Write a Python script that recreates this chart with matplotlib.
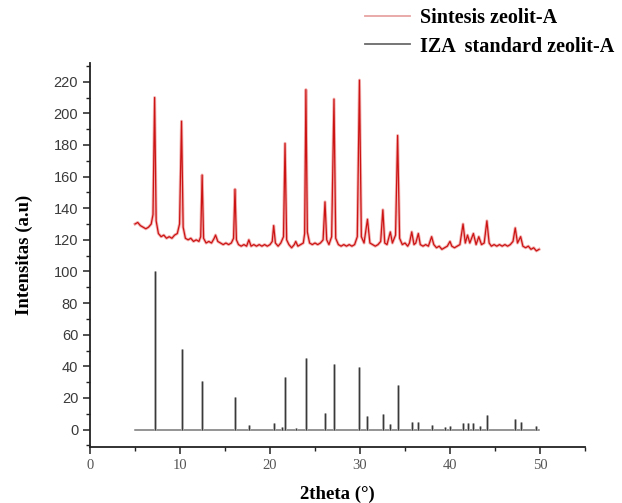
import numpy as np
import matplotlib
matplotlib.use("Agg")
from matplotlib import pyplot as plt
from matplotlib.lines import Line2D
from matplotlib.ticker import MultipleLocator

red_x = [5.0, 5.3, 5.6, 5.9, 6.2, 6.5, 6.8, 7.0, 7.18, 7.35, 7.6, 7.9, 8.2, 8.5, 8.8, 9.1, 9.4, 9.7,
         9.95, 10.17, 10.35, 10.6, 10.9, 11.2, 11.5, 11.8, 12.1, 12.3, 12.46, 12.62, 12.9, 13.2, 13.5,
         13.8, 13.95, 14.2, 14.5, 14.8, 15.1, 15.4, 15.7, 15.95, 16.11, 16.27, 16.5, 16.8, 17.1, 17.4,
         17.65, 17.9, 18.2, 18.5, 18.8, 19.1, 19.4, 19.7, 20.0, 20.25, 20.41, 20.6, 20.9, 21.2, 21.5,
         21.67, 21.85, 22.1, 22.4, 22.7, 22.86, 23.1, 23.4, 23.7, 23.85, 23.99, 24.15, 24.4, 24.7,
         25.0, 25.3, 25.6, 25.9, 26.11, 26.3, 26.55, 26.85, 27.11, 27.3, 27.6, 27.9, 28.2, 28.5, 28.8,
         29.1, 29.4, 29.7, 29.94, 30.15, 30.45, 30.83, 31.1, 31.4, 31.7, 32.0, 32.3, 32.54, 32.75,
         33.0, 33.37, 33.6, 33.95, 34.18, 34.4, 34.7, 35.0, 35.3, 35.5, 35.75, 36.0, 36.2, 36.48,
         36.7, 37.0, 37.3, 37.6, 37.96, 38.2, 38.5, 38.8, 39.1, 39.4, 39.7, 40.0, 40.2, 40.5, 40.8,
         41.1, 41.45, 41.7, 41.95, 42.2, 42.6, 42.9, 43.2, 43.5, 43.8, 44.1, 44.35, 44.6, 44.9, 45.2,
         45.5, 45.8, 46.1, 46.4, 46.7, 47.0, 47.25, 47.5, 47.85, 48.1, 48.4, 48.7, 49.0, 49.3, 49.6,
         49.9]
red_y = [130, 131, 129, 128, 127, 128, 130, 136, 210, 132, 124, 122, 123, 121, 122, 121, 123, 124,
         130, 195, 128, 121, 120, 121, 119, 120, 119, 122, 161, 121, 118, 119, 118,
         121, 123, 119, 118, 117, 118, 117, 118, 121, 152, 120, 117, 116, 117, 116,
         120, 116, 117, 116, 117, 116, 117, 116, 117, 119, 129, 118, 116, 118, 122,
         181, 120, 117, 115, 117, 119, 116, 117, 118, 124, 215, 125, 118, 117,
         118, 117, 118, 120, 144, 120, 117, 122, 209, 121, 117, 116, 117, 116, 117,
         116, 117, 122, 221, 122, 118, 133, 118, 117, 116, 117, 119, 139, 118,
         117, 125, 118, 123, 186, 121, 117, 118, 116, 118, 125, 117, 118, 124,
         117, 116, 117, 116, 122, 117, 115, 116, 114, 115, 116, 119, 116, 115, 116,
         117, 130, 118, 123, 118, 124, 117, 122, 117, 118, 132, 118, 116, 117, 116,
         117, 116, 117, 116, 117, 119, 127.5, 118, 122, 116, 115, 116, 114, 115, 113,
         114]

# IZA standard zeolit-A: reflection positions and relative intensities
iza_x = [7.18, 10.17, 12.46, 16.11, 17.64, 20.41, 21.35, 21.67, 22.86, 23.99, 26.11, 27.11,
         29.94, 30.83, 32.54, 33.37, 34.18, 35.75, 36.48, 37.96, 39.4, 40.05, 41.45, 41.95,
         42.6, 43.3, 44.1, 47.25, 47.85, 49.6]
iza_y = [100, 51, 31, 20.7, 2.7, 4.2, 1.6, 33.5, 1.0, 45, 10.5, 41.5,
         39.6, 8.4, 10, 3.7, 28, 5, 5, 3, 1.5, 2, 4, 4,
         4, 2, 9, 6.5, 5, 2.5]
iza_range = [5.05, 49.9]

fig = plt.figure(figsize=(6.22, 5.03), dpi=100)
ax = fig.add_axes([0.1447, 0.1113, 0.7958, 0.764])

# red pattern: soft halo under a thin core line
ax.plot(red_x, red_y, color="#f3b3b3", lw=2.2, zorder=2)
ax.plot(red_x, red_y, color="#cc1414", lw=0.9, zorder=3)

# standard: flat baseline plus sticks
ax.plot(iza_range, [0, 0], color="#777777", lw=1.1, zorder=2)
ax.vlines(iza_x, 0, iza_y, color="#bbbbbb", lw=2.0, zorder=2)
ax.vlines(iza_x, 0, iza_y, color="#3a3a3a", lw=0.9, zorder=3)

ax.set_xlim(0, 55)
ax.set_ylim(-11, 232)
ax.xaxis.set_major_locator(MultipleLocator(10))
ax.xaxis.set_minor_locator(MultipleLocator(5))
ax.yaxis.set_major_locator(MultipleLocator(20))
ax.yaxis.set_minor_locator(MultipleLocator(10))
ax.set_xticks(range(0, 51, 10))
ax.set_yticks(range(0, 221, 20))

for s in ["top", "right"]:
    ax.spines[s].set_visible(False)
for s in ["left", "bottom"]:
    ax.spines[s].set_linewidth(1.3)
    ax.spines[s].set_color("#222222")

ax.tick_params(which="major", length=5, width=1.1, color="#222222")
ax.tick_params(which="minor", length=3, width=1.0, color="#222222")
for lab in ax.get_yticklabels():
    lab.set_fontfamily("Liberation Sans")
    lab.set_fontsize(10.5)
    lab.set_color("#3a3a3a")
for lab in ax.get_xticklabels():
    lab.set_fontfamily("Liberation Serif")
    lab.set_fontsize(10.5)
    lab.set_color("#555555")

ax.set_xlabel("2theta (°)", fontfamily="Liberation Serif", fontweight="bold",
              fontsize=13.5, labelpad=10)
ax.set_ylabel("Intensitas (a.u)", fontfamily="Liberation Serif", fontweight="bold",
              fontsize=13.5, labelpad=15)

handles = [Line2D([], [], color="#e8a3a3", lw=1.3),
           Line2D([], [], color="#6a6a6a", lw=1.3)]
fig.legend(handles, ["Sintesis zeolit-A", "IZA  standard zeolit-A"],
           loc="upper left", bbox_to_anchor=(0.558, 1.02), frameon=False,
           prop={"family": "Liberation Serif", "weight": "bold", "size": 14.5},
           handlelength=2.2, handletextpad=0.5, labelspacing=0.42)

fig.savefig("out.png", dpi=100)
